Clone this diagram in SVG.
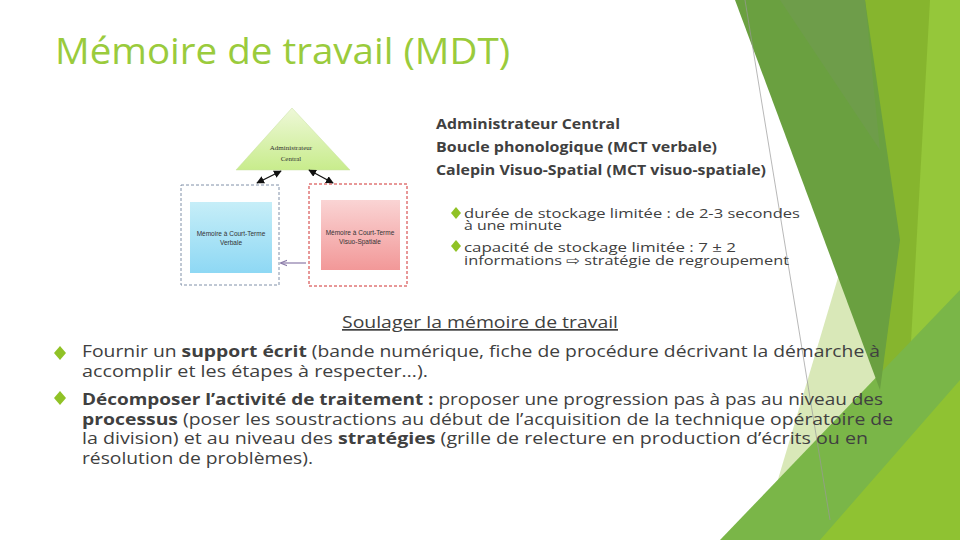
<svg xmlns="http://www.w3.org/2000/svg" width="960" height="540" viewBox="0 0 960 540">
<defs>
<style>
.t{font-family:"Open Sans","DejaVu Sans",sans-serif;fill:#404040}
.b{font-weight:bold}
.s{font-family:"Liberation Serif",serif;fill:#333;font-size:7px;text-anchor:middle}
.sm{font-family:"Liberation Sans",sans-serif;fill:#333;font-size:6.5px;text-anchor:middle}
.dia{fill:#90C226}
</style>
<linearGradient id="gT" x1="0" y1="0" x2="0" y2="1"><stop offset="0" stop-color="#eef8d8"/><stop offset="1" stop-color="#c8ec8c"/></linearGradient>
<linearGradient id="gB" x1="0" y1="0" x2="0" y2="1"><stop offset="0" stop-color="#c6eef8"/><stop offset="1" stop-color="#8ed8f4"/></linearGradient>
<linearGradient id="gR" x1="0" y1="0" x2="0" y2="1"><stop offset="0" stop-color="#fad4d4"/><stop offset="1" stop-color="#f29898"/></linearGradient>
<marker id="ah" viewBox="0 0 10 10" refX="9" refY="5" markerWidth="6" markerHeight="6" orient="auto-start-reverse"><path d="M0,0L10,5L0,10z" fill="#111"/></marker>
<marker id="ap" viewBox="0 0 10 10" refX="9" refY="5" markerWidth="6" markerHeight="6" orient="auto"><path d="M0,1L10,5L0,9" fill="none" stroke="#8a7aa8" stroke-width="1.5"/></marker>
</defs>
<rect width="960" height="540" fill="#fff"/>
<g id="decor">
<polygon points="760,540 870,170 960,540" fill="#d9e8b8"/>
<polygon points="855,0 960,0 960,540 820,540 880,380" fill="#86b52e"/>
<polygon points="930,0 960,0 960,540 900,540" fill="#95c73a"/>
<polygon points="720,540 960,290 960,540" fill="#7ab648"/>
<polygon points="820,540 960,380 960,540" fill="#8fc232"/>
<polygon points="735,0 865,0 900,240 880,390" fill="#6aa040"/>
<polygon points="780,0 865,0 880,150" fill="#6e9d4a"/>
<line x1="745" y1="0" x2="830" y2="520" stroke="#999" stroke-width="0.7"/>
</g>
<text class="t" x="55" y="64" font-size="37" style="fill:#9acb3c" textLength="455" lengthAdjust="spacingAndGlyphs">Mémoire de travail (MDT)</text>
<g id="admin">
<polygon points="292,108 236,170 350,170" fill="url(#gT)" stroke="#c8e0a0" stroke-width="0.5"/>
<text class="s" x="291" y="150">Administrateur</text>
<text class="s" x="291" y="161">Central</text>
</g>
<g id="verbal">
<rect x="181" y="185" width="98" height="100" fill="none" stroke="#8090a8" stroke-dasharray="3,2"/>
<rect x="190" y="202" width="82" height="71" fill="url(#gB)"/>
<text class="sm" x="231" y="236">Mémoire à Court-Terme</text>
<text class="sm" x="231" y="245">Verbale</text>
</g>
<g id="visuo">
<rect x="309" y="184" width="98" height="102" fill="none" stroke="#d03030" stroke-dasharray="3,2"/>
<rect x="321" y="200" width="79" height="70" fill="url(#gR)"/>
<text class="sm" x="360" y="235">Mémoire à Court-Terme</text>
<text class="sm" x="360" y="244">Visuo-Spatiale</text>
</g>
<g id="connectors">
<line x1="257" y1="183" x2="281" y2="171" stroke="#111" stroke-width="1.3" marker-start="url(#ah)" marker-end="url(#ah)"/>
<line x1="309" y1="170" x2="333" y2="183" stroke="#111" stroke-width="1.3" marker-start="url(#ah)" marker-end="url(#ah)"/>
<line x1="306" y1="263" x2="281" y2="263" stroke="#8a7aa8" stroke-width="1.2" marker-end="url(#ap)"/>
</g>
<g id="right-text">
<text class="t b" x="436" y="129" font-size="14.5" textLength="184" lengthAdjust="spacingAndGlyphs">Administrateur Central</text>
<text class="t b" x="436" y="152" font-size="14.5" textLength="281" lengthAdjust="spacingAndGlyphs">Boucle phonologique (MCT verbale)</text>
<text class="t b" x="436" y="175" font-size="14.5" textLength="330" lengthAdjust="spacingAndGlyphs">Calepin Visuo-Spatial (MCT visuo-spatiale)</text>
<polygon class="dia" points="456,207 461,213 456,219 451,213"/>
<polygon class="dia" points="456,240 461,246 456,252 451,246"/>
<text class="t" x="464" y="218" font-size="13" textLength="336" lengthAdjust="spacingAndGlyphs">durée de stockage limitée : de 2-3 secondes</text>
<text class="t" x="464" y="230" font-size="13" textLength="98" lengthAdjust="spacingAndGlyphs">à une minute</text>
<text class="t" x="464" y="252" font-size="13" textLength="272" lengthAdjust="spacingAndGlyphs">capacité de stockage limitée : 7 ± 2</text>
<text class="t" x="464" y="265" font-size="13" textLength="325" lengthAdjust="spacingAndGlyphs">informations ⇨ stratégie de regroupement</text>
</g>
<g id="main-text">
<text class="t" x="342" y="328" font-size="17" text-decoration="underline" textLength="276" lengthAdjust="spacingAndGlyphs">Soulager la mémoire de travail</text>
<polygon class="dia" points="60,346 66,353 60,360 54,353"/>
<polygon class="dia" points="60,391 66,398 60,405 54,398"/>
<text class="t" x="82" y="357" font-size="16.5" textLength="798" lengthAdjust="spacingAndGlyphs">Fournir un <tspan class="b">support écrit</tspan> (bande numérique, fiche de procédure décrivant la démarche à</text>
<text class="t" x="82" y="377" font-size="16.5" textLength="346" lengthAdjust="spacingAndGlyphs">accomplir et les étapes à respecter…).</text>
<text class="t" x="82" y="405" font-size="16" textLength="801" lengthAdjust="spacingAndGlyphs"><tspan class="b">Décomposer l’activité de traitement :</tspan> proposer une progression pas à pas au niveau des</text>
<text class="t" x="82" y="425" font-size="16" textLength="811" lengthAdjust="spacingAndGlyphs"><tspan class="b">processus</tspan> (poser les soustractions au début de l’acquisition de la technique opératoire de</text>
<text class="t" x="82" y="444" font-size="16" textLength="786" lengthAdjust="spacingAndGlyphs">la division) et au niveau des <tspan class="b">stratégies</tspan> (grille de relecture en production d’écrits ou en</text>
<text class="t" x="82" y="464" font-size="16" textLength="231" lengthAdjust="spacingAndGlyphs">résolution de problèmes).</text>
</g>
</svg>
